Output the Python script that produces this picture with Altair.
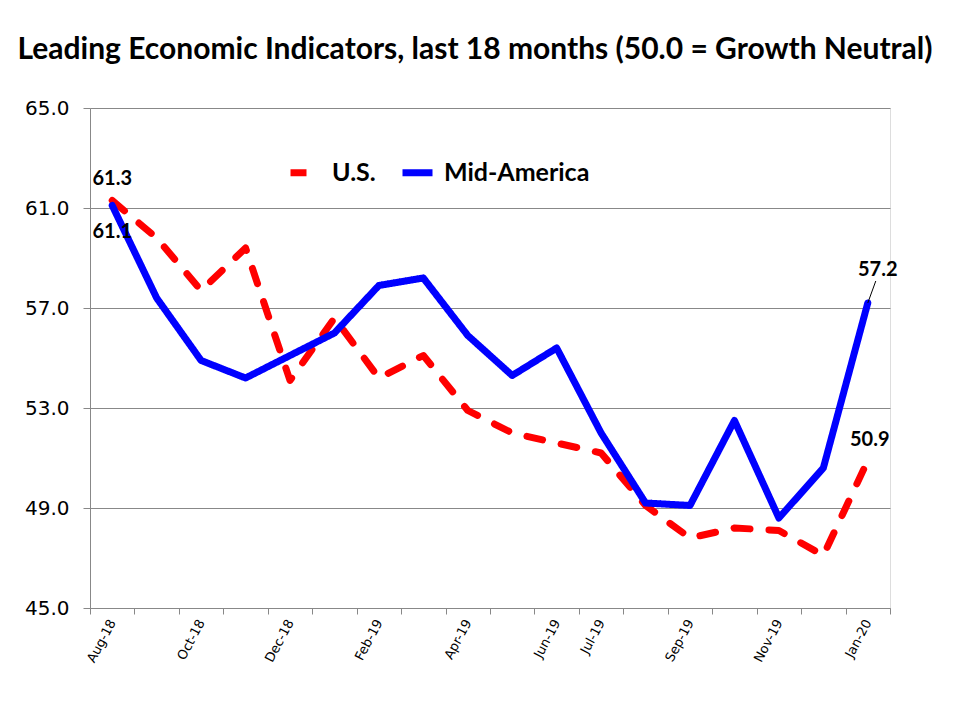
import altair as alt
import pandas as pd

months = ["Aug-18", "Sep-18", "Oct-18", "Nov-18", "Dec-18", "Jan-19", "Feb-19", "Mar-19",
          "Apr-19", "May-19", "Jun-19", "Jul-19", "Aug-19", "Sep-19", "Oct-19", "Nov-19",
          "Dec-19", "Jan-20"]
us = [61.3, 59.8, 57.7, 59.4, 54.1, 56.6, 54.2, 55.1, 52.9, 52.0, 51.6, 51.2,
      49.1, 47.8, 48.2, 48.1, 47.1, 50.9]
mid = [61.1, 57.4, 54.9, 54.2, 55.1, 56.0, 57.9, 58.2, 55.9, 54.3, 55.4, 52.0,
       49.2, 49.1, 52.5, 48.6, 50.6, 57.2]
shown_labels = ["Aug-18", "Oct-18", "Dec-18", "Feb-19", "Apr-19", "Jun-19", "Jul-19",
                "Sep-19", "Nov-19", "Jan-20"]
series = ["U.S.", "Mid-America"]
y_ticks = [45, 49, 53, 57, 61, 65]

rows = []
for i, m in enumerate(months):
    rows.append({"month": m, "series": series[0], "value": us[i]})
    rows.append({"month": m, "series": series[1], "value": mid[i]})
df = pd.DataFrame(rows)
df["label"] = df["value"].map(lambda v: f"{v:.1f}")

label_list = ",".join(f"'{s}'" for s in shown_labels)

x_enc = alt.X(
    "month:O", sort=months, bandPosition=0.5,
    scale=alt.Scale(type="band", paddingInner=0, paddingOuter=0),
    axis=alt.Axis(
        title=None, tickBand="extent", labelAngle=-62, labelOverlap=False,
        labelExpr=f"indexof([{label_list}], datum.value) >= 0 ? datum.value : ''",
        labelFont="DejaVu Sans", labelFontSize=13, labelColor="#000",
        domainColor="#888", tickColor="#888", tickSize=6, labelPadding=6,
        grid=False,
    ),
)
y_enc = alt.Y(
    "value:Q",
    scale=alt.Scale(domain=[45, 65], nice=False, zero=False),
    axis=alt.Axis(
        title=None, values=y_ticks, format=".1f",
        labelFont="DejaVu Sans", labelFontSize=20, labelFontWeight="normal",
        labelColor="#000",
        gridColor="#888", domainColor="#888", tickColor="#888",
        tickSize=7, labelPadding=14,
    ),
)

base = alt.Chart(df)

lines = base.mark_line(strokeWidth=7, strokeCap="round", strokeJoin="round").encode(
    x=x_enc,
    y=y_enc,
    color=alt.Color(
        "series:N",
        scale=alt.Scale(domain=series, range=["#ff0000", "#0000ff"]),
        legend=alt.Legend(
            title=None, orient="none", legendX=197, legendY=46, direction="horizontal",
            labelFont="Lato", labelFontSize=25, labelFontWeight="bold", labelColor="#000",
            symbolType="stroke", symbolStrokeWidth=7, symbolSize=900,
            labelOffset=8, columnPadding=12,
        ),
    ),
    strokeDash=alt.StrokeDash(
        "series:N",
        scale=alt.Scale(domain=series, range=[[16, 19], [1, 0]]),
        legend=None,
    ),
)

lab_font = dict(font="Lato", fontSize=20, fontWeight="bold", color="#000")

def lab(series_name, month, dx, dy):
    return base.transform_filter(
        (alt.datum.series == series_name) & (alt.datum.month == month)
    ).mark_text(dx=dx, dy=dy, **lab_font).encode(x=x_enc, y=y_enc, text="label:N")

t1 = lab(series[0], months[0], 0, -22)
t2 = lab(series[1], months[0], 0, 26)
t3 = lab(series[1], months[-1], 10, -33)
t4 = lab(series[0], months[-1], 2, -21)

leader = base.transform_filter(
    (alt.datum.series == series[1]) & (alt.datum.month == months[-1])
).mark_rule(color="#000", strokeWidth=1, x2Offset=8, y2Offset=-22).encode(
    x=x_enc,
    y=y_enc,
    x2=alt.X2("month:O", bandPosition=0.5),
    y2=alt.Y2("value:Q"),
)

chart = alt.layer(lines, leader, t1, t2, t3, t4).properties(
    width=800,
    height=500,
    autosize=alt.AutoSizeParams(type="none"),
    padding={"left": 82, "top": 100, "right": 62, "bottom": 104},
    title=alt.TitleParams(
        "Leading Economic Indicators, last 18 months (50.0 = Growth Neutral)",
        font="Lato", fontSize=30, fontWeight="bold", color="#000",
        anchor="middle", baseline="bottom", offset=0, dx=-15, dy=-3,
    ),
).configure_view(stroke=None).configure(background="white")

chart.save("out.html", embed_options={"renderer": "svg", "actions": False})
